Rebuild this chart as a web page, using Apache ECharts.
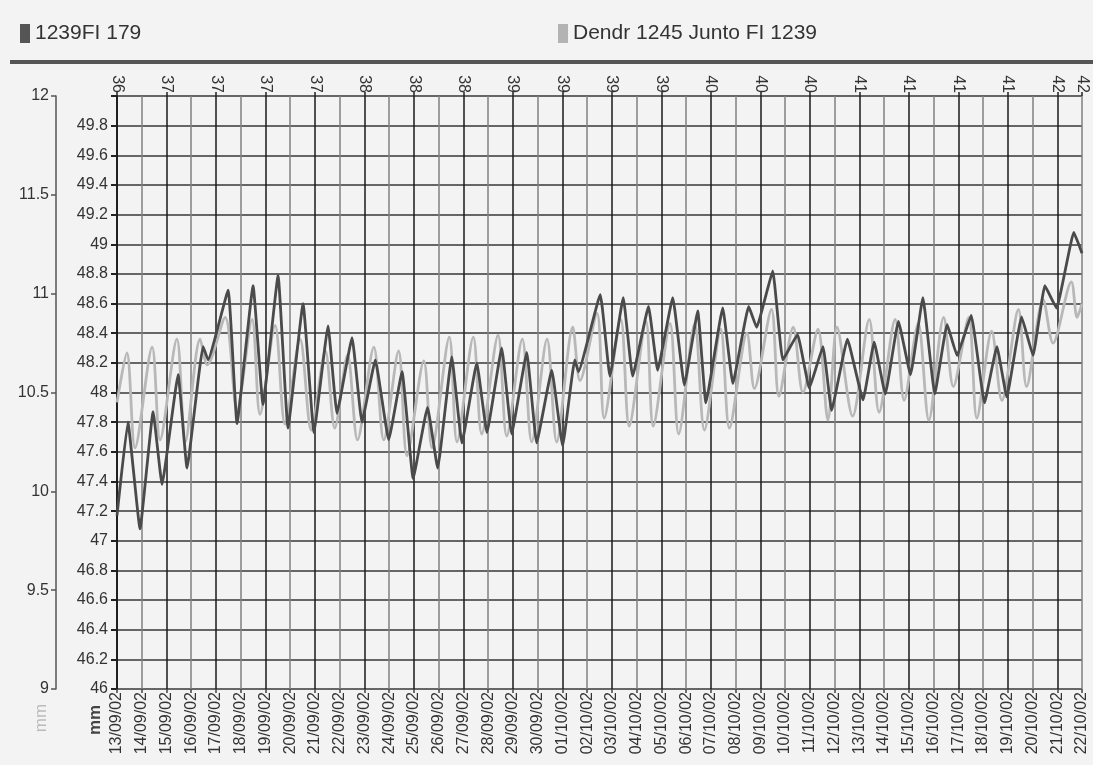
<!DOCTYPE html>
<html>
<head>
<meta charset="utf-8">
<script src="https://cdn.jsdelivr.net/npm/echarts@6/dist/echarts.min.js"></script>
<style>
html,body{margin:0;padding:0;background:#f3f3f3;}
#c{width:1093px;height:765px;}
</style>
</head>
<body>
<div id="c"></div>
<script>
// ---- data ----
const dates = ['13/09/02','14/09/02','15/09/02','16/09/02','17/09/02','18/09/02','19/09/02','20/09/02','21/09/02','22/09/02',
  '23/09/02','24/09/02','25/09/02','26/09/02','27/09/02','28/09/02','29/09/02','30/09/02','01/10/02','02/10/02',
  '03/10/02','04/10/02','05/10/02','06/10/02','07/10/02','08/10/02','09/10/02','10/10/02','11/10/02','12/10/02',
  '13/10/02','14/10/02','15/10/02','16/10/02','17/10/02','18/10/02','19/10/02','20/10/02','21/10/02','22/10/02'];
const weekLabels = ['36','37','37','37','37','38','38','38','39','39','39','39','40','40','40','41','41','41','41','42','42'];
const darkName = '1239FI 179';
const lightName = 'Dendr 1245 Junto FI 1239';
const innerAxisName = 'mm';
const outerAxisName = 'mm';

// dark series: time (days since 13/09/02) and values (mm, inner axis 46-50)
const darkDays = [0,0.44,0.93,1.46,1.82,2.47,2.83,3.48,3.68,4.49,
  4.85,5.5,5.9,6.51,6.91,7.52,7.96,8.53,8.89,9.5,
  9.9,10.44,10.98,11.52,11.97,12.55,12.96,13.53,13.94,14.54,
  14.95,15.55,15.95,16.56,16.96,17.57,18.01,18.5,18.65,19.53,
  19.92,20.46,20.84,21.48,21.85,22.46,22.93,23.47,23.8,24.48,
  24.89,25.53,25.85,26.5,26.91,27.5,27.98,28.53,28.88,29.52,
  30.15,30.6,31.05,31.58,32.07,32.57,33.05,33.55,33.95,34.52,
  35.06,35.56,35.96,36.56,37.02,37.5,37.97,38.67,39];
const darkValues = [47.17,47.8,47.08,47.87,47.38,48.12,47.49,48.31,48.22,48.69,
  47.79,48.72,47.92,48.79,47.76,48.6,47.73,48.45,47.86,48.37,
  47.8,48.22,47.68,48.14,47.42,47.9,47.49,48.24,47.66,48.2,
  47.73,48.3,47.72,48.27,47.66,48.15,47.64,48.22,48.14,48.66,
  48.11,48.64,48.11,48.58,48.15,48.64,48.05,48.55,47.93,48.57,
  48.06,48.58,48.44,48.82,48.22,48.39,48.03,48.31,47.88,48.36,
  47.95,48.34,47.99,48.48,48.12,48.64,47.99,48.46,48.25,48.52,
  47.93,48.31,47.97,48.51,48.25,48.72,48.57,49.08,48.94];

// light series: time (days) and values (mm, outer axis 9-12)
const lightDays = [0,0.4,0.73,1.42,1.74,2.42,2.76,3.36,3.65,4.37,
  4.85,5.46,5.78,6.39,6.79,7.4,7.85,8.42,8.8,9.32,
  9.72,10.38,10.78,11.38,11.72,12.4,12.73,13.43,13.74,14.4,
  14.74,15.4,15.75,16.38,16.76,17.38,17.77,18.42,18.71,19.4,
  19.69,20.36,20.7,21.38,21.67,22.35,22.7,23.35,23.74,24.4,
  24.75,25.46,25.76,26.45,26.75,27.33,27.72,28.33,28.73,29.1,
  29.73,30.4,30.8,31.45,31.81,32.38,32.81,33.41,33.8,34.42,
  34.75,35.35,35.76,36.43,36.76,37.43,37.83,38.57,38.8,39];
const lightValues = [10.45,10.70,10.22,10.73,10.26,10.77,10.25,10.77,10.64,10.88,
  10.41,10.87,10.39,10.84,10.34,10.77,10.31,10.71,10.32,10.69,
  10.26,10.73,10.26,10.71,10.18,10.66,10.22,10.78,10.25,10.78,
  10.29,10.79,10.28,10.77,10.25,10.77,10.25,10.83,10.56,10.90,
  10.37,10.87,10.33,10.86,10.33,10.85,10.29,10.85,10.31,10.82,
  10.32,10.80,10.52,10.92,10.48,10.83,10.50,10.82,10.36,10.83,
  10.38,10.87,10.40,10.87,10.46,10.85,10.36,10.88,10.53,10.88,
  10.37,10.81,10.46,10.92,10.53,10.97,10.75,11.06,10.88,10.95];

// ---- chart ----
const FONT = 'Liberation Sans, Arial, sans-serif';
const zip = (a, b) => a.map((x, i) => [x, b[i]]);

const chart = echarts.init(document.getElementById('c'), null, {renderer: 'canvas'});
chart.setOption({
  animation: false,
  backgroundColor: '#f3f3f3',
  textStyle: {fontFamily: FONT},
  legend: [
    {data: [darkName], left: 20, top: 23, padding: 0, icon: 'rect', itemWidth: 10, itemHeight: 19,
     textStyle: {fontSize: 21, color: '#333', fontFamily: FONT}},
    {data: [lightName], left: 558, top: 23, padding: 0, icon: 'rect', itemWidth: 10, itemHeight: 19,
     textStyle: {fontSize: 21, color: '#333', fontFamily: FONT}}
  ],
  graphic: [
    {type: 'rect', shape: {x: 10, y: 60, width: 1083, height: 4}, style: {fill: '#555'}},
    {type: 'text', x: 41, y: 718, rotation: Math.PI / 2,
     style: {text: outerAxisName, fill: '#bbb', fontSize: 17, fontFamily: FONT, align: 'center', verticalAlign: 'middle'}},
    {type: 'text', x: 95, y: 720, rotation: Math.PI / 2,
     style: {text: innerAxisName, fill: '#444', fontSize: 17, fontWeight: 'bold', fontFamily: FONT, align: 'center', verticalAlign: 'middle'}}
  ],
  grid: {left: 117, right: 11, top: 96, bottom: 76, containLabel: false},
  xAxis: [
    {type: 'value', position: 'bottom', min: 0, max: 39, interval: 1,
     axisLine: {show: false, onZero: false},
     axisTick: {show: true, length: 4, lineStyle: {color: '#444', width: 1.5}},
     axisLabel: {rotate: 90, margin: 3, fontSize: 16, color: '#333', fontFamily: FONT,
       formatter: (v) => dates[Math.round(v)]},
     splitLine: {show: true, lineStyle: {color: ['#1a1a1a', '#808080'], width: 1.5}}},
    {type: 'value', position: 'top', min: 0, max: 39, interval: 2,
     axisLine: {show: false, onZero: false},
     axisTick: {show: true, length: 4, lineStyle: {color: '#222', width: 1.5}},
     axisLabel: {rotate: 90, margin: 3, fontSize: 16, color: '#333', fontFamily: FONT,
       formatter: (v, i) => weekLabels[i]},
     splitLine: {show: false}}
  ],
  yAxis: [
    {type: 'value', position: 'left', min: 46, max: 50, interval: 0.2,
     axisLine: {show: true, onZero: false, lineStyle: {color: '#111', width: 1.5}},
     axisTick: {show: true, length: 6, lineStyle: {color: '#222', width: 2}},
     axisLabel: {margin: 9, fontSize: 16, color: '#333', fontFamily: FONT,
       formatter: (v) => (Math.abs(v - 50) < 1e-6 ? '' : String(Math.round(v * 10) / 10))},
     splitLine: {show: true, lineStyle: {color: '#666', width: 1.8}}},
    {type: 'value', position: 'left', offset: 61, min: 9, max: 12, interval: 0.5,
     axisLine: {show: true, onZero: false, lineStyle: {color: '#555', width: 1.5}},
     axisTick: {show: true, length: 5, lineStyle: {color: '#555', width: 1.5}},
     axisLabel: {margin: 7, fontSize: 16, color: '#333', fontFamily: FONT},
     splitLine: {show: false}}
  ],
  series: [
    {name: lightName, type: 'line', xAxisIndex: 0, yAxisIndex: 1, data: zip(lightDays, lightValues),
     showSymbol: false, symbol: 'none', z: 2, smooth: 0.3,
     itemStyle: {color: '#b3b3b3'}, lineStyle: {color: '#b8b8b8', width: 2.8}},
    {name: darkName, type: 'line', xAxisIndex: 0, yAxisIndex: 0, data: zip(darkDays, darkValues),
     showSymbol: false, symbol: 'none', z: 3, smooth: 0.1,
     itemStyle: {color: '#555'}, lineStyle: {color: '#4a4a4a', width: 2.8}}
  ]
});
</script>
</body>
</html>
